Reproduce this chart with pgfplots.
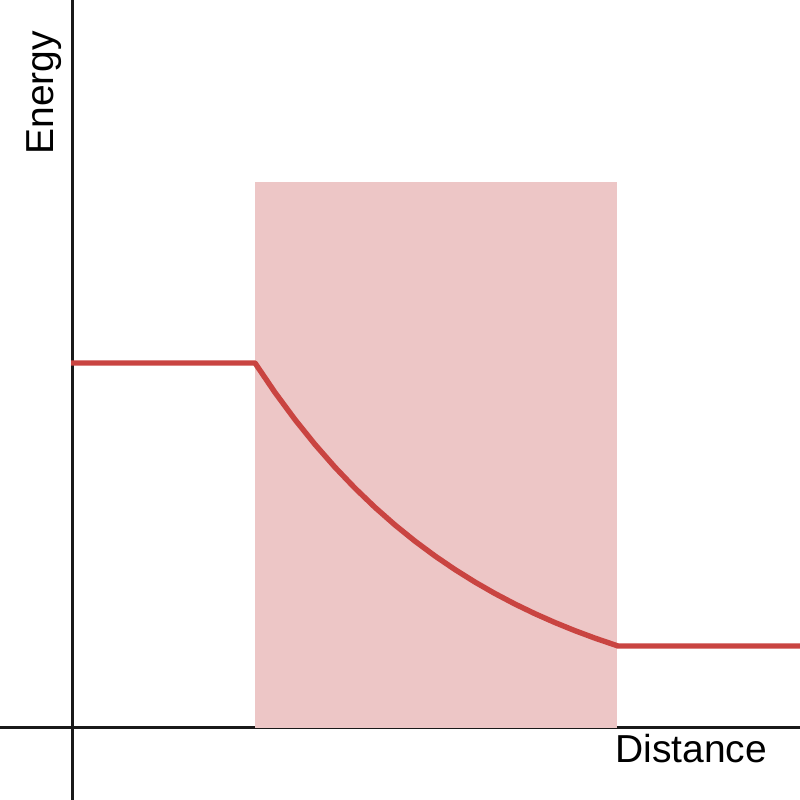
\documentclass[border=0pt]{standalone}
\usepackage{pgfplots}
\pgfplotsset{compat=1.18}
\usepackage{fontspec}
\setmainfont{Liberation Sans}
\definecolor{linered}{RGB}{201,68,65}
\definecolor{boxfill}{RGB}{237,198,198}
\definecolor{axisblack}{RGB}{25,25,25}
\begin{document}
\begin{tikzpicture}
\begin{axis}[
  at={(0,0)}, anchor=south west,
  scale only axis, width=400pt, height=400pt,
  xmin=-72, xmax=728, ymin=-72, ymax=728,
  axis lines=middle,
  axis line style={-, line width=1.5pt, color=axisblack},
  xtick=\empty, ytick=\empty,
  clip=false,
]
\addplot[fill=boxfill, draw=none, forget plot] coordinates {(183,0) (545,0) (545,546) (183,546)} -- cycle;
\addplot[linered, line width=2.7pt, line join=round] coordinates {
(-1,365) (183,365)
(203,335.49) (223,308.41) (243,283.55) (263,260.74) (283,239.82)
(303,220.62) (323,203.0) (343,186.84) (363,172.02) (383,158.41)
(403,145.91) (423,134.45) (443,123.92) (463,114.28) (483,105.43)
(503,97.30) (523,89.85) (546,82)
(728,82)
};
\node[anchor=base west, inner sep=0pt, font=\fontsize{19.5}{23}\selectfont] at (axis cs:543,-35) {Distance};
\node[anchor=base west, rotate=90, inner sep=0pt, font=\fontsize{19.5}{23}\selectfont] at (axis cs:-18,573) {Energy};
\end{axis}
\pgfresetboundingbox
\path (0,0) rectangle (400pt,400pt);
\end{tikzpicture}
\end{document}
